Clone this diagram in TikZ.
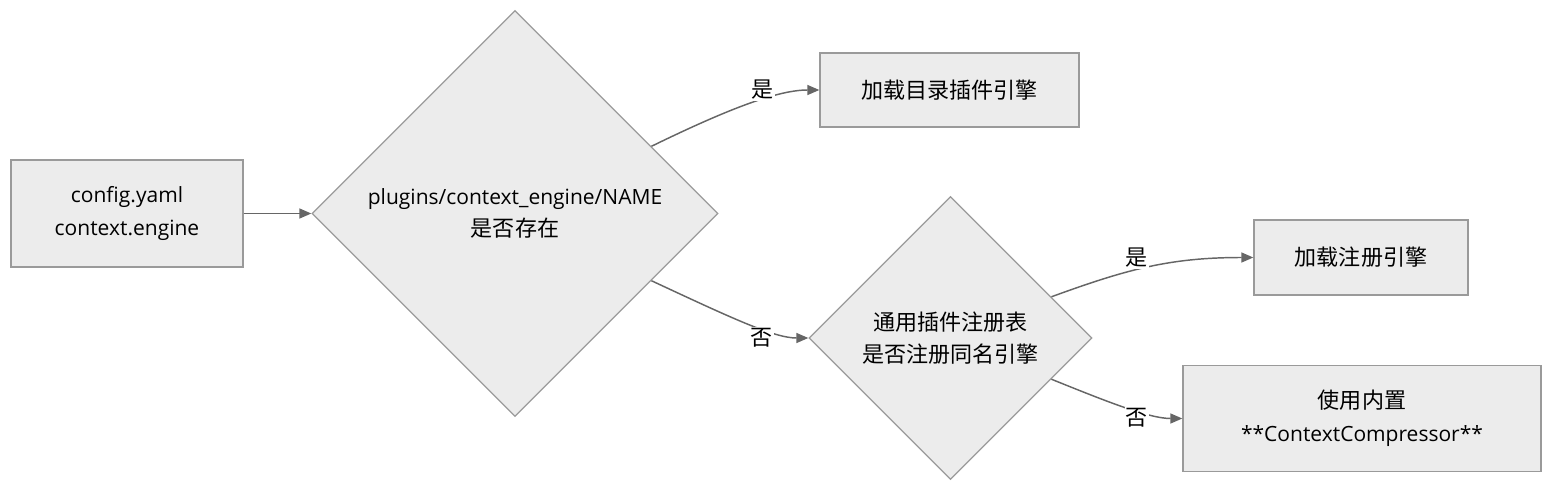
\documentclass[tikz,border=0pt]{standalone}
\usepackage{fontspec}
\setmainfont{Open Sans}
\newfontfamily\cjk[Scale=1.05]{Noto Sans CJK SC}
\usetikzlibrary{arrows.meta,calc,shapes.geometric}
\definecolor{boxfill}{HTML}{ECECEC}
\definecolor{boxline}{HTML}{9A9A9A}
\definecolor{edgeline}{HTML}{666666}

\begin{document}
\begin{tikzpicture}[x=0.75pt,y=-0.75pt,>={Triangle[length=9pt,width=7.5pt]},
  font=\fontsize{15.75}{24.5}\selectfont,
  box/.style={draw=boxline,fill=boxfill,line width=1pt,align=center,inner sep=0pt},
  decision/.style={diamond,aspect=1,draw=boxline,fill=boxfill,line width=1pt,align=center,inner sep=0pt},
  edge/.style={->,draw=edgeline,line width=1.1pt},
  elabel/.style={fill=white,inner sep=1pt}]
  \useasboundingbox (0,0) rectangle (1568,496);

  % nodes
  \node[box, minimum width=174pt, minimum height=80.25pt] (cfg) at (127,213.5)
    {config.yaml\\context.engine};
  \node[decision, minimum width=304.5pt, minimum height=304.5pt] (dirchk) at (515,213.5)
    {plugins/context\_engine/NAME\\{\cjk 是否存在}};
  \node[box, minimum width=194.25pt, minimum height=55.5pt] (loaddir) at (949.5,90)
    {\cjk 加载目录插件引擎};
  \node[decision, minimum width=212.25pt, minimum height=212.25pt] (regchk) at (950.5,338)
    {{\cjk 通用插件注册表}\\{\cjk 是否注册同名引擎}};
  \node[box, minimum width=160.5pt, minimum height=56.25pt] (loadreg) at (1361,257.5)
    {\cjk 加载注册引擎};
  \node[box, minimum width=268.5pt, minimum height=79.5pt] (builtin) at (1362,418.5)
    {{\cjk 使用内置}\\**ContextCompressor**};

  % connectors
  \draw[edge] (cfg.east) -- (dirchk.west);
  \draw[edge] ($(dirchk.north)!0.67!(dirchk.east)$) .. controls +(-26:90) and +(-40,0) .. (loaddir.west);
  \draw[edge] ($(dirchk.east)!0.33!(dirchk.south)$) .. controls +(25:90) and +(-34,0) .. (regchk.west);
  \draw[edge] ($(regchk.north)!0.71!(regchk.east)$) .. controls +(-20:80) and +(-84,0) .. (loadreg.west);
  \draw[edge] ($(regchk.east)!0.29!(regchk.south)$) .. controls +(22:60) and +(-33,0) .. (builtin.west);

  % edge labels
  \node[elabel] (yes1) at (763,90) {\cjk 是};
  \node[elabel] (no1) at (762,338) {\cjk 否};
  \node[elabel] (yes2) at (1137,258) {\cjk 是};
  \node[elabel] (no2) at (1137,418) {\cjk 否};
\end{tikzpicture}
\end{document}
